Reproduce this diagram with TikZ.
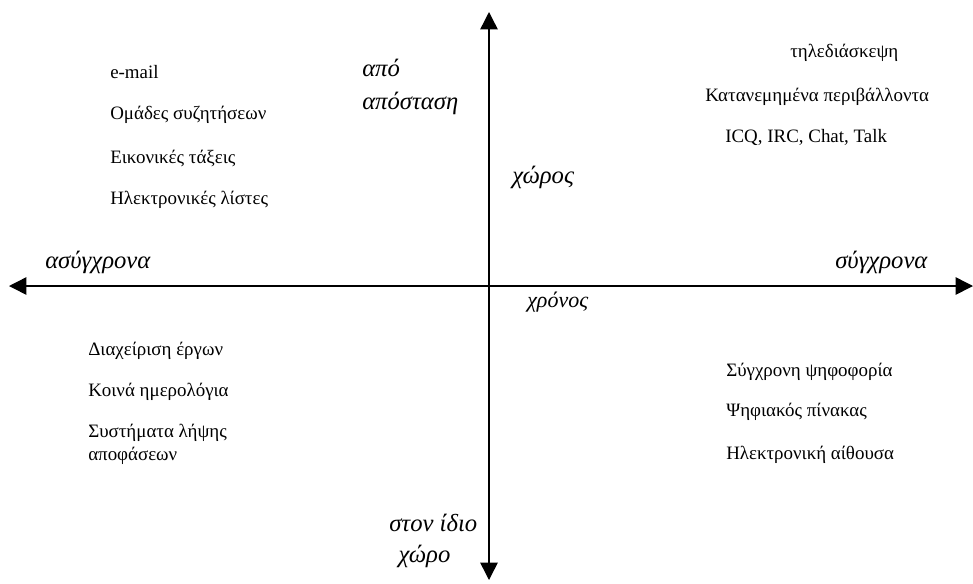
\documentclass[tikz,border=0pt]{standalone}
\usepackage{fontspec}
\setmainfont{Liberation Serif}
\usetikzlibrary{arrows.meta}

\begin{document}
\begin{tikzpicture}[line cap=round,line join=round,>={Triangle[length=13pt,width=13pt]},x=0.75pt,y=-0.75pt]
	\useasboundingbox (0,0) rectangle (973,583);
	\tikzset{item/.style={anchor=west,inner sep=0pt,font=\fontsize{14.2}{17.3}\selectfont},
		axislabel/.style={anchor=west,inner sep=0pt,align=left,font=\fontsize{18.5}{24.5}\selectfont\itshape}}
	% axes
	\coordinate (top) at (489,12);
	\coordinate (bottom) at (489,580);
	\coordinate (left) at (9,286);
	\coordinate (right) at (973,286);
	\draw [line width=1.1pt,<->] (bottom) -- (top);
	\draw [line width=1.1pt,<->] (left) -- (right);
	% axis labels
	\node[axislabel] (apo) at (362,87) {από\\απόσταση};
	\node[axislabel] (xwros) at (512,177) {χώρος};
	\node[axislabel] (asyg) at (45,262) {ασύγχρονα};
	\node[axislabel] (syg) at (835,262) {σύγχρονα};
	\node[axislabel,font=\fontsize{16.5}{18}\selectfont\itshape] (xronos) at (527,302) {χρόνος};
	\node[axislabel,font=\fontsize{18.5}{23}\selectfont\itshape] (idio) at (389,541) {στον ίδιο\\\hspace*{7pt}χώρο};
	% upper left
	\node[item] (email) at (110,72) {e-mail};
	\node[item] (omades) at (110,115) {Ομάδες συζητήσεων};
	\node[item] (taxeis) at (110,158) {Εικονικές τάξεις};
	\node[item] (listes) at (110,200) {Ηλεκτρονικές λίστες};
	% upper right
	\node[item] (tele) at (790,53) {τηλεδιάσκεψη};
	\node[item] (katan) at (705,97) {Κατανεμημένα περιβάλλοντα};
	\node[item] (icq) at (725,137) {ICQ, IRC, Chat, Talk};
	% lower left
	\node[item] (erga) at (88,351) {Διαχείριση έργων};
	\node[item] (imer) at (88,392) {Κοινά ημερολόγια};
	\node[item,align=left] (lipsi) at (88,444) {Συστήματα λήψης\\αποφάσεων};
	% lower right
	\node[item] (psifo) at (726,372) {Σύγχρονη ψηφοφορία};
	\node[item] (pinakas) at (726,412) {Ψηφιακός πίνακας};
	\node[item] (aith) at (726,455) {Ηλεκτρονική αίθουσα};
\end{tikzpicture}
\end{document}
